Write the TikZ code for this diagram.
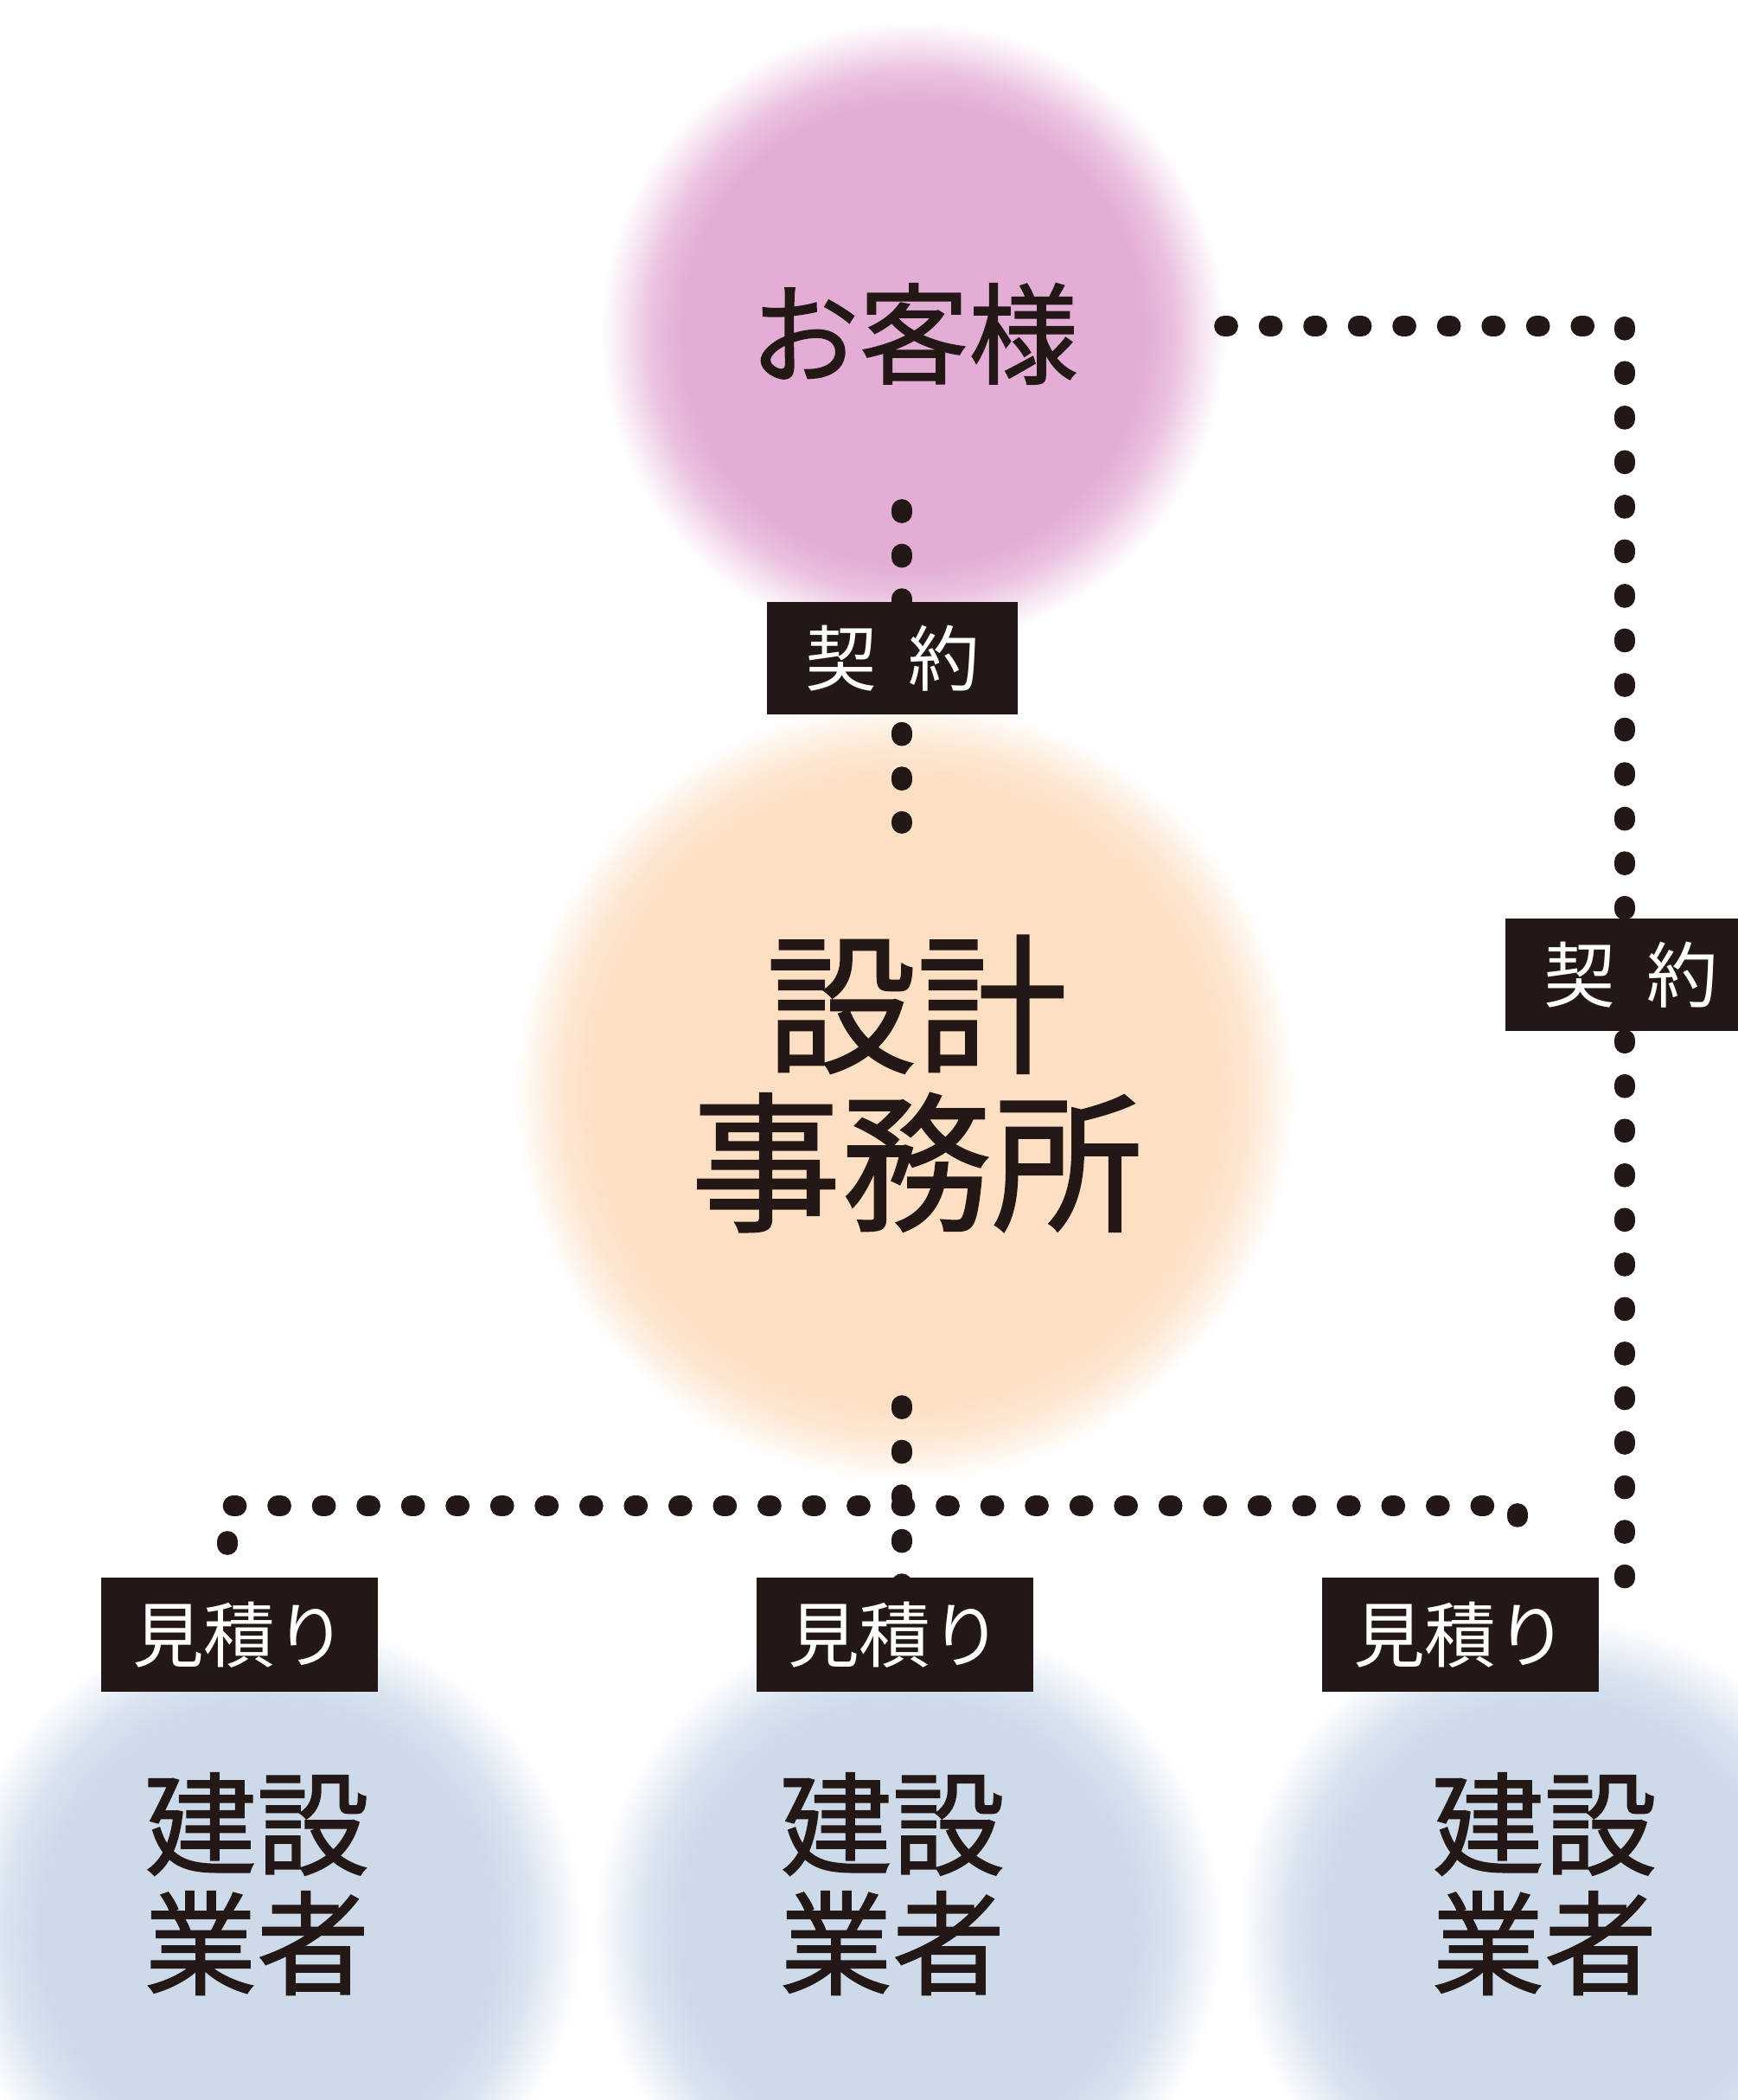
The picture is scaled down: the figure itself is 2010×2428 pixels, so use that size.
\documentclass[tikz,border=0pt]{standalone}
\usepackage{fontspec}
\setmainfont{Noto Sans CJK JP}
\newfontfamily\heavyjp[FakeBold=1.2]{Noto Sans CJK JP}

\definecolor{inkc}{HTML}{231815}
\definecolor{pinkc}{HTML}{E4ADD5}
\definecolor{peachc}{HTML}{FDDFC3}
\definecolor{bluec}{HTML}{CCDAEA}

\pgfdeclareradialshading{pinkglow}{\pgfpointorigin}{color(0bp)=(pinkc); color(18.5bp)=(pinkc); color(21bp)=(pinkc!75!white); color(23bp)=(pinkc!35!white); color(25bp)=(white); color(50bp)=(white)}
\pgfdeclareradialshading{peachglow}{\pgfpointorigin}{color(0bp)=(peachc); color(20bp)=(peachc); color(22bp)=(peachc!75!white); color(23.7bp)=(peachc!35!white); color(25bp)=(white); color(50bp)=(white)}
\pgfdeclareradialshading{blueglow}{\pgfpointorigin}{color(0bp)=(bluec); color(18bp)=(bluec); color(20.8bp)=(bluec!75!white); color(23bp)=(bluec!35!white); color(25bp)=(white); color(50bp)=(white)}

\tikzset{
  dotline/.style={draw=inkc, line width=0.237cm, line cap=round, dash pattern=on 0.04cm off 0.475cm},
  tag/.style={fill=inkc, text=white, inner sep=0pt, font=\fontsize{23.5}{26}\selectfont},
  big/.style={text=inkc, align=center, inner sep=0pt}
}

\begin{document}
\begin{tikzpicture}[x=0.01cm, y=-0.01cm]

      \useasboundingbox (0,0) rectangle (2010,2428);
      \clip (0,0) rectangle (2010,2428);

      % soft coloured discs
      \shade[shading=pinkglow]  (1056,386)  circle (362);
      \shade[shading=peachglow] (1047,1262) circle (452);
      \foreach \x in {310,1050,1795}
        \shade[shading=blueglow] (\x,2232) circle (365);

      \node[big, font=\heavyjp\fontsize{36}{40}\selectfont]     (kyaku)  at (1057,386)  {お客様};
      \node[big, font=\heavyjp\fontsize{49.5}{52}\selectfont]   (sekkei) at (1060,1253) {設計\\事務所};
      \begin{scope}[every node/.style={big, font=\heavyjp\fontsize{37}{39.3}\selectfont}]
        \node (gyoA) at (297,2178)  {建設\\業者};
        \node (gyoB) at (1032,2178) {建設\\業者};
        \node (gyoC) at (1786,2178) {建設\\業者};
      \end{scope}

      % line ends
      \coordinate (kyakuS)   at (1043,589);
      \coordinate (sekkeiN)  at (1043,952);
      \coordinate (kyakuE)   at (1416,377);
      \coordinate (cornerNE) at (1879,377);
      \coordinate (endNE)    at (1879,1872);
      \coordinate (sekkeiS)  at (1043,1625);
      \coordinate (endB)     at (1043,1833);
      \coordinate (rowSW)    at (263,1786);
      \coordinate (rowNW)    at (263,1741);
      \coordinate (rowNE)    at (1755,1741);
      \coordinate (rowSE)    at (1755,1800);

      \draw[dotline] (kyakuS) -- (sekkeiN);
      \draw[dotline] (kyakuE) -- (cornerNE) -- (endNE);
      \draw[dotline] (sekkeiS) -- (endB);
      \draw[dotline] (rowSW) -- (rowNW) -- (rowNE) -- (rowSE);

      \begin{scope}[every node/.style={tag, minimum width=2.89cm, minimum height=1.29cm}]
        \node (keiyakuA) at (1032,761)  {契\hspace{0.44em}約};
        \node (keiyakuB) at (1886,1127) {契\hspace{0.44em}約};
      \end{scope}
      \begin{scope}[every node/.style={tag, minimum width=3.2cm, minimum height=1.31cm}]
        \node (mitsuA) at (277,1890)  {見積り};
        \node (mitsuB) at (1035,1890) {見積り};
        \node (mitsuC) at (1689,1890) {見積り};
      \end{scope}

    \end{tikzpicture}
\end{document}
